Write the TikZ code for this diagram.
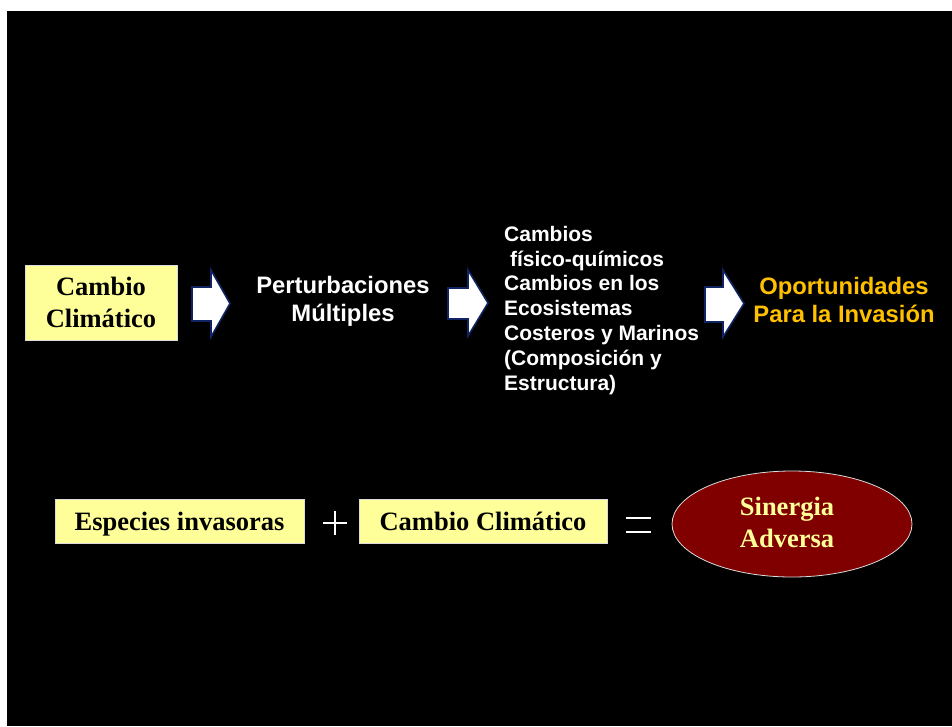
\documentclass[tikz,border=0pt]{standalone}
\usepackage{fontspec}
\setmainfont{Liberation Serif}
\newfontfamily\arialf{Liberation Sans}
\definecolor{boxyellow}{RGB}{255,255,153}
\definecolor{navyedge}{RGB}{16,36,100}
\definecolor{oporange}{RGB}{255,192,0}
\definecolor{darkred}{RGB}{128,0,0}
\definecolor{edgegrey}{RGB}{220,220,220}
\tikzset{
  ybox/.style={draw=edgegrey, line width=0.8pt, fill=boxyellow, inner sep=0pt},
  serifbig/.style={font=\bfseries\fontsize{26.5}{32}\selectfont, text=black, inner sep=0pt, align=center},
  sanstext/.style={font=\arialf\bfseries\fontsize{23.8}{28}\selectfont, text=white, inner sep=0pt, align=center},
  smalltext/.style={font=\arialf\bfseries\fontsize{21}{24.8}\selectfont, text=white, inner sep=0pt, align=left},
  blockarrow/.style={draw=navyedge, line width=1.6pt, fill=white, line join=miter},
  symline/.style={draw=white, line width=2.2pt}
}
\begin{document}
\begin{tikzpicture}[x=1pt,y=-1pt]
\useasboundingbox (0,0) rectangle (952,726);
\fill[white] (0,0) rectangle (952,726);
\fill[black] (7,11) rectangle (952,726);

% top row
\node[ybox, minimum width=152pt, minimum height=75pt] (cc1) at (101,302.5) {};
\node[serifbig, anchor=base] (cc1t) at (101,327) {Cambio\\Climático};

\draw[blockarrow] (192,287) -- (211,287) -- (211,270) -- (230,303.5) -- (211,337) -- (211,321) -- (192,321) -- cycle;

\node[sanstext, anchor=base] (pert) at (343,321) {Perturbaciones\\Múltiples};

\draw[blockarrow] (448,288) -- (468,288) -- (468,270) -- (488,303) -- (468,336) -- (468,319) -- (448,319) -- cycle;

\node[smalltext, anchor=base west] (camb) at (504,390) {Cambios\\\hspace*{0.278em}físico-químicos\\Cambios en los\\Ecosistemas\\Costeros y Marinos\\(Composición y\\Estructura)};

\draw[blockarrow] (705,287) -- (723,287) -- (723,270) -- (744,303.5) -- (723,337) -- (723,322) -- (705,322) -- cycle;

\node[sanstext, text=oporange, anchor=base] (opor) at (844,322) {Oportunidades\\Para la Invasión};

% bottom row
\node[ybox, minimum width=249pt, minimum height=44pt] (esp) at (179.5,521) {};
\node[serifbig, anchor=base] (espt) at (179.5,530) {Especies invasoras};

\coordinate (plus) at (335,523);
\draw[symline] ([xshift=-12pt]plus) -- ([xshift=12pt]plus);
\draw[symline] ([yshift=-12pt]plus) -- ([yshift=12pt]plus);

\node[ybox, minimum width=248pt, minimum height=44pt] (cc2) at (483,521) {};
\node[serifbig, anchor=base] (cc2t) at (483,530) {Cambio Climático};

\coordinate (eq) at (638.5,525);
\draw[symline] ([xshift=-12.5pt,yshift=-7pt]eq) -- ([xshift=12.5pt,yshift=-7pt]eq);
\draw[symline] ([xshift=-12.5pt,yshift=7pt]eq) -- ([xshift=12.5pt,yshift=7pt]eq);

\draw[draw=edgegrey, line width=0.8pt, fill=darkred] (792,524) ellipse [x radius=120, y radius=53];
\node[serifbig, text=boxyellow, anchor=base] (sin) at (787,547) {Sinergia\\Adversa};
\end{tikzpicture}
\end{document}
